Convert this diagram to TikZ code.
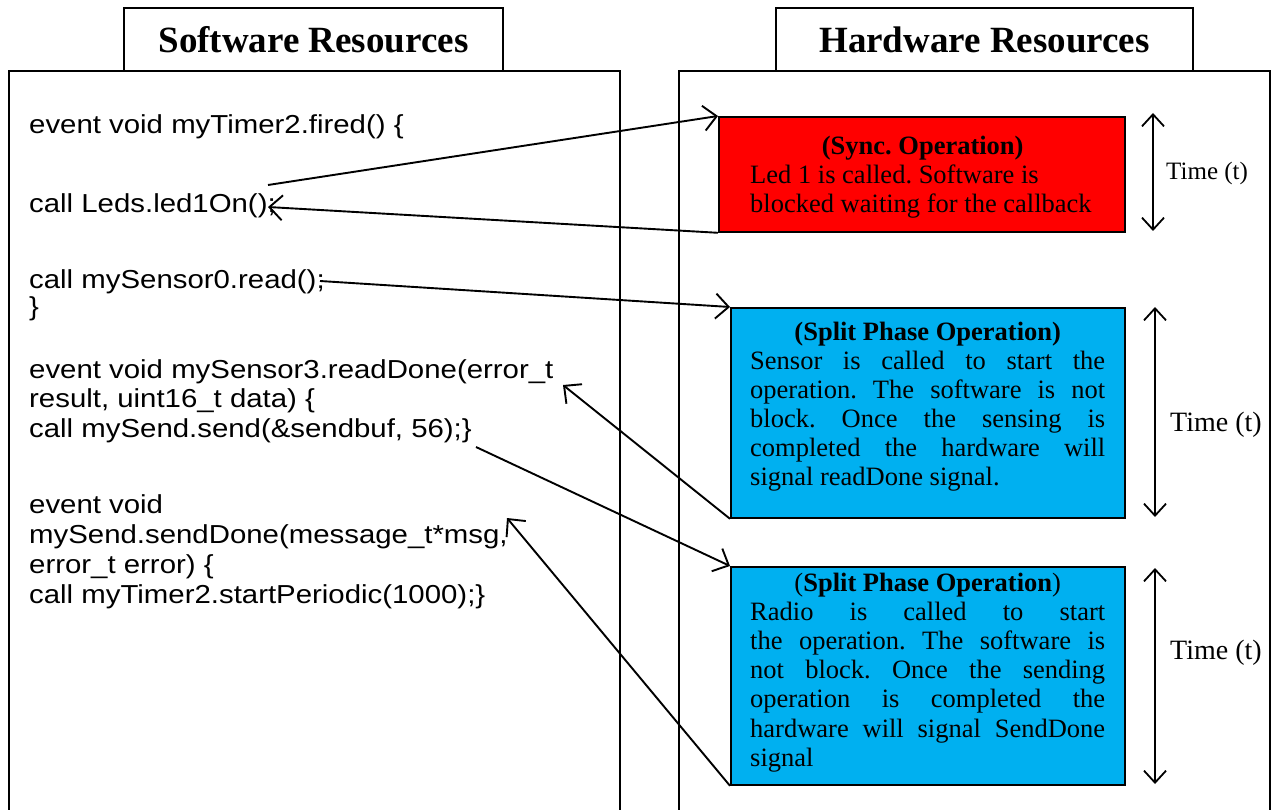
\documentclass[tikz,border=0pt]{standalone}
\usepackage{fontspec}
\setmainfont{Liberation Serif}
\newfontfamily\codefont{Liberation Sans}
\usetikzlibrary{arrows.meta}
\definecolor{syncred}{HTML}{FF0000}
\definecolor{splitblue}{HTML}{00B0F0}
% one line of source code, slightly widened
\newcommand{\codeline}[1]{\scalebox{1.13}[1]{#1}}
\frenchspacing

\begin{document}
\begin{tikzpicture}[x=1pt,y=-1pt,
  panel/.style={line width=1.3pt},
  tabbox/.style={draw, line width=1.3pt, fill=white, minimum width=#1,
    minimum height=63pt, inner sep=0pt,
    font=\fontsize{37}{40}\selectfont\bfseries},
  opbox/.style={draw, line width=1.8pt, anchor=north west, inner sep=0pt},
  code/.style={anchor=base west, inner sep=0pt,
    font=\codefont\fontsize{26}{30}\selectfont},
  body/.style={anchor=base west, inner sep=0pt},
  link/.style={line width=1.9pt,
    -{Straight Barb[length=13pt,width=25pt]}},
  span/.style={line width=1.8pt,
    {Straight Barb[length=12pt,width=22pt]}-{Straight Barb[length=12pt,width=22pt]}},
  timelbl/.style={anchor=west, inner sep=0pt}
]
\useasboundingbox (0,0) rectangle (1271,810);

% the two panels (open at the bottom)
\draw[panel] (9,812) -- (9,71) -- (620,71) -- (620,812);
\draw[panel] (679,812) -- (679,71) -- (1270,71) -- (1270,812);
\node[tabbox=379pt] (swtab) at (313.5,39.5) {Software Resources};
\node[tabbox=417pt] (hwtab) at (984.5,39.5) {Hardware Resources};

% source code
\node[code] (c1)  at (29,134) {\codeline{event void myTimer2.fired() \{}};
\node[code] (c2)  at (29,213) {\codeline{call Leds.led1On();}};
\node[code] (c3)  at (29,288) {\codeline{call mySensor0.read();}};
\node[code] (c4)  at (29,316) {\codeline{\}}};
\node[code] (c5)  at (29,378) {\codeline{event void mySensor3.readDone(error\_t}};
\node[code] (c6)  at (29,407) {\codeline{result, uint16\_t data) \{}};
\node[code] (c7)  at (29,437) {\codeline{call mySend.send(\&sendbuf, 56);\}}};
\node[code] (c8)  at (29,513) {\codeline{event void}};
\node[code] (c9)  at (29,543) {\codeline{mySend.sendDone(message\_t*msg,}};
\node[code] (c10) at (29,573) {\codeline{error\_t error) \{}};
\node[code] (c11) at (29,603) {\codeline{call myTimer2.startPeriodic(1000);\}}};

% hardware operations
\node[opbox, fill=syncred, minimum width=406pt, minimum height=115pt] (sync) at (718,116) {};
\node[opbox, fill=splitblue, minimum width=394pt, minimum height=210pt] (sense) at (730,307) {};
\node[opbox, fill=splitblue, minimum width=394pt, minimum height=218pt] (radio) at (730,566) {};

\node[body] (synctxt) at (750,155) {\parbox[t]{345pt}{%
  \fontsize{26.5}{29}\selectfont
  {\centering\textbf{(Sync. Operation)}\par}
  \raggedright Led 1 is called. Software is\\
  blocked waiting for the callback}};

\node[body] (sensetxt) at (750,340) {\parbox[t]{355pt}{%
  \fontsize{26.5}{29}\selectfont
  {\centering\textbf{(Split Phase Operation)}\par}
  Sensor is called to start the\linebreak
  operation. The software is not\linebreak
  block. Once the sensing is\linebreak
  completed the hardware will\linebreak
  signal readDone signal.}};

\node[body] (radiotxt) at (750,591) {\parbox[t]{355pt}{%
  \fontsize{26.5}{29.2}\selectfont
  {\centering(\textbf{Split Phase Operation})\par}
  Radio is called to start\linebreak
  the operation. The software is\linebreak
  not block. Once the sending\linebreak
  operation is completed the\linebreak
  hardware will signal SendDone\linebreak
  signal}};

% time spans
\coordinate (t1a) at (1153,113);
\coordinate (t1b) at (1153,231);
\coordinate (t2a) at (1155,307);
\coordinate (t2b) at (1155,517);
\coordinate (t3a) at (1155,568);
\coordinate (t3b) at (1155,784);
\draw[span] (t1a) -- (t1b);
\draw[span] (t2a) -- (t2b);
\draw[span] (t3a) -- (t3b);
\node[timelbl, font=\fontsize{25}{28}\selectfont] (time1) at (1166,173) {Time (t)};
\node[timelbl, font=\fontsize{28}{31}\selectfont] (time2) at (1170,425) {Time (t)};
\node[timelbl, font=\fontsize{28}{31}\selectfont] (time3) at (1170,653) {Time (t)};

% call / callback connectors
\coordinate (s1) at (268,185);
\coordinate (e2) at (268,207);
\coordinate (s3) at (320,281);
\coordinate (e4) at (563,385);
\coordinate (s5) at (476,447);
\coordinate (e6) at (507,518);
\draw[link] (s1) -- (sync.north west);
\draw[link] (sync.south west) -- (e2);
\draw[link] (s3) -- (sense.north west);
\draw[link] (sense.south west) -- (e4);
\draw[link] (s5) -- (radio.north west);
\draw[link] (radio.south west) -- (e6);
\end{tikzpicture}
\end{document}
